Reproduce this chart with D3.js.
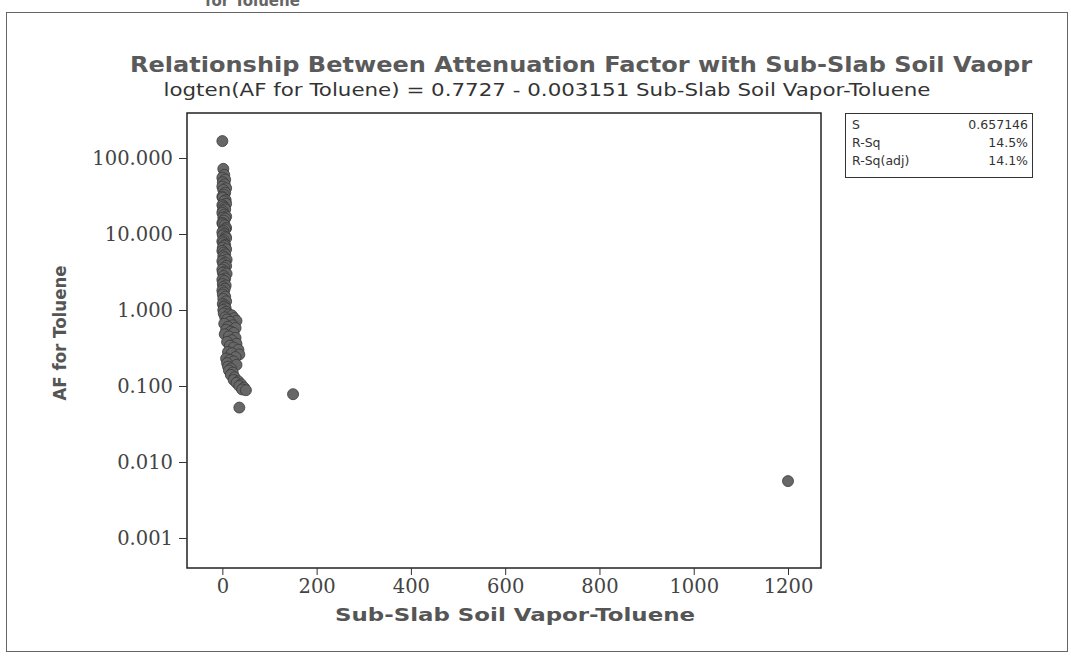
<!DOCTYPE html>
<html><head><meta charset="utf-8">
<script src="https://cdn.jsdelivr.net/npm/d3@7"></script>
<style>body{margin:0;background:#fff}svg{display:block}</style>
</head><body>
<script>
// ---- data ----
const ssVaporX = [0,
 2,4,0,6,1,5,0,8,2,6, 3,0,1,7,4,8,0,2,5,6, 1,0,4,8,2,6,3,0,1,5, 8,6,2,0,4,1,7,8,3,0, 2,6,4,1,8,0,3,6,2,5, 9,0,6,2,8,4,0,5,1,9, 3,6,0,4,1,7,2,5,0,3, 1,6,2,8,1,5,4,7,2,
 8,3,14,20,6,25,10,30,16,4, 22,12,28,8,18,24,5,14,28,20, 10,30,16,24,34,12,20,36,28,8, 16,24,10,30,12,18,14,22,18,26, 24,34,30,40,36,46,42,50,
 36,150,1200];
const afToluene = [167,
 72,60,55,52,48,45,42,40,38,35, 33,31,30,28,27,25,24,23,22,21, 20,19,18,17,16.5,16,15,14,13.5,13, 12,11.5,11,10.5,10,9.6,9.2,8.8,8.3,8, 7.6,7.2,7,6.6,6.3,6,5.7,5.4,5.1,4.9, 4.6,4.4,4.2,4,3.8,3.6,3.4,3.2,3.1,3, 2.8,2.6,2.5,2.4,2.2,2.1,2,1.9,1.8,1.7, 1.6,1.5,1.4,1.3,1.2,1.15,1.1,1.05,1.0,
 0.95,0.9,0.88,0.85,0.8,0.78,0.75,0.72,0.7,0.66, 0.63,0.6,0.58,0.55,0.52,0.5,0.48,0.45,0.43,0.4, 0.38,0.36,0.34,0.32,0.3,0.28,0.27,0.26,0.24,0.23, 0.22,0.21,0.2,0.19,0.18,0.17,0.16,0.15,0.14,0.13, 0.12,0.115,0.11,0.105,0.1,0.095,0.09,0.088,
 0.052,0.078,0.0056];
const xTicks = [0,200,400,600,800,1000,1200];
const yTicks = [100,10,1,0.1,0.01,0.001];
const yTickLabels = ["100.000","10.000","1.000","0.100","0.010","0.001"];
const statLabels = ["S","R-Sq","R-Sq(adj)"];
const statValues = ["0.657146","14.5%","14.1%"];
const titleText = "Relationship Between Attenuation Factor with Sub-Slab Soil Vaopr";
const subtitleText = "logten(AF for Toluene) =  0.7727 - 0.003151 Sub-Slab Soil Vapor-Toluene";

const W = 1071, H = 658;
const box = {l:187, r:821, t:113, b:568};

const svg = d3.select("body").append("svg").attr("width", W).attr("height", H);

// outer frame
svg.append("rect").attr("x",6.5).attr("y",12.5).attr("width",1061).attr("height",639)
  .attr("fill","none").attr("stroke","#666").attr("stroke-width",1);
svg.append("text").attr("x",205).attr("y",6).attr("font-family","DejaVu Sans").attr("font-weight","bold")
  .attr("font-size",15).attr("fill","#666").text("for Toluene");

// scales
const x = d3.scaleLinear().domain([-75, 1270]).range([box.l, box.r]);
const y = d3.scaleLog().domain([Math.pow(10,-3.395), Math.pow(10,2.592)]).range([box.b, box.t]);

// titles
svg.append("text").attr("x",581).attr("y",72).attr("text-anchor","middle")
  .attr("font-family","DejaVu Sans").attr("font-weight","bold").attr("font-size",21)
  .attr("fill","#5a5a5a").attr("textLength",902).attr("lengthAdjust","spacingAndGlyphs").text(titleText);
svg.append("text").attr("x",547).attr("y",96).attr("text-anchor","middle")
  .attr("font-family","DejaVu Sans").attr("font-size",17)
  .attr("fill","#333").attr("textLength",767).attr("lengthAdjust","spacingAndGlyphs").text(subtitleText);

// plot box
svg.append("rect").attr("x",box.l).attr("y",box.t).attr("width",box.r-box.l).attr("height",box.b-box.t)
  .attr("fill","none").attr("stroke","#222").attr("stroke-width",1.5);

// axes
const yAxis = d3.axisLeft(y).tickValues(yTicks).tickSize(8).tickPadding(6)
  .tickFormat((d,i)=>yTickLabels[i]);
const gy = svg.append("g").attr("transform",`translate(${box.l},0)`).call(yAxis);
gy.select(".domain").remove();
gy.selectAll("text").attr("font-family","DejaVu Serif").attr("font-size",19.5).attr("fill","#444");
gy.selectAll("line").attr("stroke","#333");

const xAxis = d3.axisBottom(x).tickValues(xTicks).tickSize(7).tickPadding(4).tickFormat(d3.format("d"));
const gx = svg.append("g").attr("transform",`translate(0,${box.b})`).call(xAxis);
gx.select(".domain").remove();
gx.selectAll("text").attr("font-family","DejaVu Serif").attr("font-size",19.5).attr("fill","#444");
gx.selectAll("line").attr("stroke","#333");

svg.append("text").attr("x",515).attr("y",621).attr("text-anchor","middle")
  .attr("font-family","DejaVu Sans").attr("font-weight","bold").attr("font-size",17)
  .attr("fill","#555").attr("textLength",360).attr("lengthAdjust","spacingAndGlyphs").text("Sub-Slab Soil Vapor-Toluene");
svg.append("text").attr("transform","translate(66,333) rotate(-90)").attr("text-anchor","middle")
  .attr("font-family","DejaVu Sans").attr("font-weight","bold").attr("font-size",17)
  .attr("fill","#555").attr("textLength",135).attr("lengthAdjust","spacingAndGlyphs").text("AF for Toluene");

// points
const pts = ssVaporX.map((v,i)=>({x:v, y:afToluene[i]}));
svg.append("g").selectAll("circle").data(pts).join("circle")
  .attr("cx",d=>x(d.x)).attr("cy",d=>y(d.y)).attr("r",5.5)
  .attr("fill","#676767").attr("stroke","#3a3a3a").attr("stroke-width",0.8);

// stats box
const sb = svg.append("g");
sb.append("rect").attr("x",845.5).attr("y",113.5).attr("width",187).attr("height",64)
  .attr("fill","none").attr("stroke","#333").attr("stroke-width",1);
statLabels.forEach((s,i)=>{
  sb.append("text").attr("x",852).attr("y",129+i*18).attr("font-family","DejaVu Sans")
    .attr("font-size",12.5).attr("fill","#333").text(s);
  sb.append("text").attr("x",1028).attr("y",129+i*18).attr("text-anchor","end").attr("font-family","DejaVu Sans")
    .attr("font-size",12.5).attr("fill","#333").text(statValues[i]);
});
</script>
</body></html>
